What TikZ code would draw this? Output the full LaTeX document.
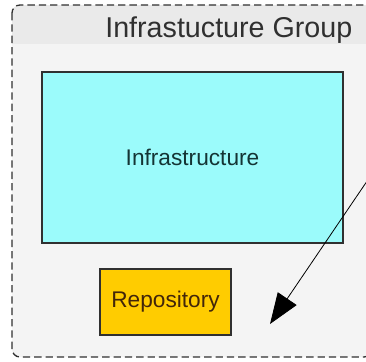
\documentclass[tikz,border=0pt]{standalone}
\usepackage{fontspec}
\setmainfont{Liberation Sans}
\usepackage{xcolor}
\usetikzlibrary{calc}
\usetikzlibrary{arrows.meta}

\definecolor{groupfill}{HTML}{F4F4F4}
\definecolor{groupband}{HTML}{EAEAEA}
\definecolor{groupline}{HTML}{303030}
\definecolor{infrafill}{HTML}{9BFBFB}
\definecolor{infratext}{HTML}{143434}
\definecolor{repofill}{HTML}{FFCC00}
\definecolor{repotext}{HTML}{42260A}

\tikzset{
  comp/.style={draw=groupline, line width=1pt, inner sep=0pt,
    font=\fontsize{17}{20}\selectfont},
  link/.style={line width=0.6pt, -{Triangle[length=23pt, width=17pt]}}
}

\begin{document}
\begin{tikzpicture}[x=0.75pt, y=-0.75pt]
        %GRID
        %\draw[lightgray] (0,0) grid[step=20] (366,361);
        \useasboundingbox (0,0) rectangle (366,361);
        %KOORDINAT
        \coordinate (gNW) at (12,5);
        \coordinate (gSE) at (372,357);
        \coordinate (from) at (380,162);
        \coordinate (to) at (270,324);
        %GROUP
        \fill[groupfill, rounded corners=6pt] (gNW) rectangle (gSE);
        \begin{scope}
          \clip[rounded corners=6pt] (gNW) rectangle (gSE);
          \fill[groupband] (gNW) rectangle (372,44);
        \end{scope}
        \draw[groupline, dash pattern=on 5.5pt off 3pt, line width=1pt, rounded corners=6pt] (gNW) rectangle (gSE);
        \node[anchor=base east, text=groupline, font=\fontsize{21.5}{24}\selectfont] (title) at (357,37) {Infrastucture Group};
        %KOMPONEN
        \node[comp, fill=infrafill, text=infratext, minimum width=225.75pt, minimum height=128.25pt] (infra) at (192.5,157.5) {Infrastructure};
        \node[comp, fill=repofill, text=repotext, minimum width=98.25pt, minimum height=49.5pt] (repo) at (165.5,302) {Repository};
        %PANAH
        \draw[link] (from) -- (to);
\end{tikzpicture}
\end{document}
